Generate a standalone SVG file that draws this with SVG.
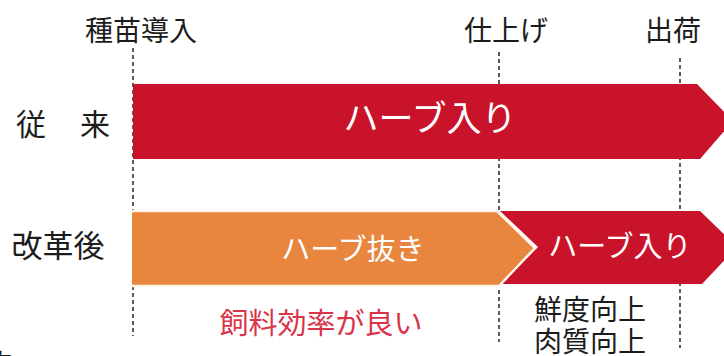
<svg xmlns="http://www.w3.org/2000/svg" width="724" height="356" viewBox="0 0 724 356">
<style>
text{font-family:"Noto Sans CJK JP","Noto Sans",sans-serif;dominant-baseline:central;text-anchor:middle}
.lbl{fill:#1c1c1c}
.w{fill:#ffffff}
.guide{stroke:#333;stroke-width:1.6;stroke-dasharray:4 3;fill:none}
.red{fill:#c8132a}
.orange{fill:#e8853e}
</style>
<g id="connectors">
<line class="guide" x1="133" y1="48" x2="133" y2="336"/>
<line class="guide" x1="499" y1="52" x2="499" y2="342"/>
<line class="guide" x1="680" y1="58" x2="680" y2="348"/>
</g>
<g id="milestone-seed"><text class="lbl" x="141" y="29" font-size="28">種苗導入</text></g>
<g id="milestone-finish"><text class="lbl" x="506" y="29" font-size="28">仕上げ</text></g>
<g id="milestone-ship"><text class="lbl" x="673" y="29" font-size="28">出荷</text></g>
<g id="row-conventional"><text class="lbl" x="31" y="122" font-size="30">従</text><text class="lbl" x="95" y="122" font-size="30">来</text></g>
<g id="row-reformed"><text class="lbl" x="58" y="243" font-size="31">改革後</text></g>
<g id="bar-conventional">
<polygon class="red" points="133,84 697,84 733,121 700,159 133,159"/>
<text class="w" x="430" y="115" font-size="35">ハーブ入り</text>
</g>
<g id="bar-herb-in">
<polygon class="red" points="500,211 700,211 737,247 702,284 500,284 538,247"/>
<text class="w" x="620" y="244" font-size="29">ハーブ入り</text>
</g>
<g id="bar-herb-free">
<polygon class="orange" stroke="#fff6ea" stroke-width="2.5" stroke-linejoin="miter" points="133,211 497,211 535,248 499,286 133,286"/>
<rect class="orange" x="132" y="212.5" width="5" height="72"/>
<text class="w" x="353" y="247" font-size="29">ハーブ抜き</text>
</g>
<g id="note-feed"><text x="321" y="321" font-size="29" fill="#d8344a">飼料効率が良い</text></g>
<g id="note-quality"><text class="lbl" x="590" y="308" font-size="28">鮮度向上</text><text class="lbl" x="590" y="340" font-size="28">肉質向上</text></g>
<g id="fragment"><text class="lbl" x="0" y="361" font-size="26">肉</text></g>
</svg>
